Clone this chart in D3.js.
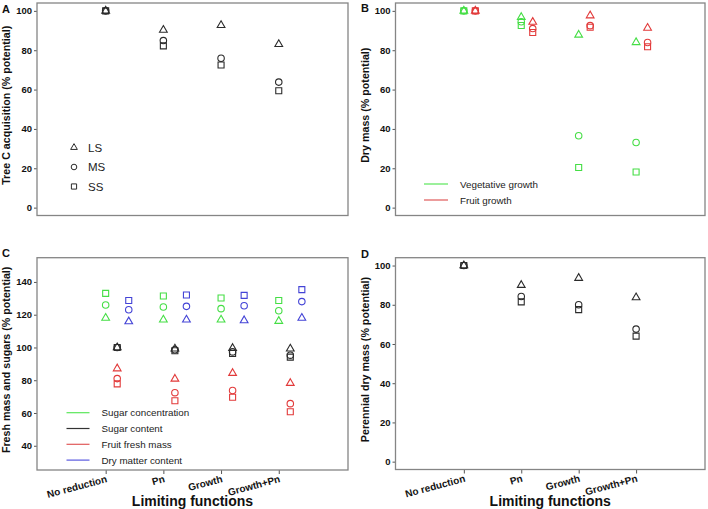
<!DOCTYPE html>
<html>
<head>
<meta charset="utf-8">
<script src="https://cdn.jsdelivr.net/npm/d3@7"></script>
<style>
  html, body { margin: 0; padding: 0; background: #fff; }
  svg { display: block; font-family: "Liberation Sans", Arial, Helvetica, sans-serif; }
</style>
</head>
<body>
<svg id="chart" width="708" height="509"></svg>
<script>
// ---------------- DATA ----------------
const categories = ["No reduction", "Pn", "Growth", "Growth+Pn"];
const stressLevels = ["LS", "MS", "SS"];

// Panel A: Tree C acquisition (% potential)
const treeC_LS = [100, 90.3, 92.7, 83.0];
const treeC_MS = [100, 84.9, 75.9, 63.8];
const treeC_SS = [100, 82.2, 72.5, 59.4];

// Panel B: Dry mass (% potential)
const veg_LS = [100, 96.8, 87.8, 84.0];
const veg_MS = [100, 94.5, 36.5, 33.1];
const veg_SS = [100, 92.6, 20.4, 18.1];
const fruit_LS = [100, 94.3, 97.6, 91.3];
const fruit_MS = [100, 91.0, 92.5, 83.9];
const fruit_SS = [100, 89.0, 91.7, 81.8];

// Panel C: Fresh mass and sugars (% potential)
const sugConc_LS = [118.0, 116.9, 116.9, 116.1];
const sugConc_MS = [125.9, 124.7, 123.7, 122.4];
const sugConc_SS = [133.0, 131.4, 130.2, 128.7];
const sugCont_LS = [100, 99.2, 99.6, 99.2];
const sugCont_MS = [100, 98.6, 97.3, 95.3];
const sugCont_SS = [100, 98.0, 96.3, 94.1];
const ffm_LS = [87.1, 80.8, 84.3, 78.2];
const ffm_MS = [81.0, 72.4, 73.7, 65.7];
const ffm_SS = [77.8, 67.5, 69.6, 60.8];
const dmc_LS = [115.8, 116.9, 116.5, 118.0];
const dmc_MS = [123.0, 125.1, 125.5, 128.0];
const dmc_SS = [128.7, 132.0, 131.8, 135.3];

// Panel D: Perennial dry mass (% potential)
const peren_LS = [100, 90.0, 93.6, 83.7];
const peren_MS = [100, 84.2, 80.0, 67.6];
const peren_SS = [100, 81.5, 77.5, 64.0];

const ticksA = [0, 20, 40, 60, 80, 100];
const ticksC = [40, 60, 80, 100, 120, 140];

// ---------------- STYLE ----------------
const COL = { black: "#2b2b2b", green: "#45de45", red: "#e23a3a", blue: "#4343d6" };
const LEGCOL = { black: "#333", green: "#5ae75a", red: "#e05a5a", blue: "#5a5ae0" };
const symType = { LS: d3.symbolTriangle, MS: d3.symbolCircle, SS: d3.symbolSquare };
const symSize = { LS: 26, MS: 33, SS: 36 };

const svg = d3.select("#chart");

function panel(opts) {
  const g = svg.append("g");
  const x = d3.scaleLinear().domain([-0.19, 5.2]).range([opts.x0, opts.x1]);
  const y = d3.scaleLinear().domain(opts.ydom).range([opts.y1, opts.y0]);

  // y axis
  const yAxis = d3.axisLeft(y).tickValues(opts.yticks).tickSize(3).tickPadding(2).tickFormat(d3.format("d"));
  const ya = g.append("g").attr("transform", `translate(${opts.x0},0)`).call(yAxis);
  ya.select(".domain").remove();
  ya.selectAll("line").attr("stroke", "#555");
  ya.selectAll("text").attr("font-size", 9.5).attr("font-weight", "bold").attr("fill", "#111");

  // x axis (ticks only on bottom panels)
  if (opts.xlabels) {
    const xAxis = d3.axisBottom(x).tickValues([1, 2, 3, 4]).tickSize(4).tickFormat("");
    const xa = g.append("g").attr("transform", `translate(0,${opts.y1})`).call(xAxis);
    xa.select(".domain").remove();
    xa.selectAll("line").attr("stroke", "#555");
    categories.forEach((c, i) => {
      g.append("text")
        .attr("transform", `translate(${x(i + 1) + 2},${opts.y1 + 12}) rotate(-15)`)
        .attr("text-anchor", "end")
        .attr("font-size", 10).attr("font-weight", "bold").attr("fill", "#111")
        .text(c);
    });
    g.append("text")
      .attr("x", (opts.x0 + opts.x1) / 2).attr("y", opts.y1 + 36)
      .attr("text-anchor", "middle").attr("font-size", 14).attr("font-weight", "bold").attr("fill", "#111")
      .text("Limiting functions");
  }

  // box
  g.append("rect").attr("x", opts.x0).attr("y", opts.y0)
    .attr("width", opts.x1 - opts.x0).attr("height", opts.y1 - opts.y0)
    .attr("fill", "none").attr("stroke", "#858585").attr("stroke-width", 1.3);

  // y title
  g.append("text")
    .attr("transform", `translate(${opts.titleX},${(opts.y0 + opts.y1) / 2 - 4}) rotate(-90)`)
    .attr("text-anchor", "middle").attr("font-size", 10.7).attr("font-weight", "bold").attr("fill", "#111")
    .text(opts.ytitle);

  // panel letter
  g.append("text").attr("x", opts.letterX).attr("y", opts.letterY)
    .attr("font-size", 11).attr("font-weight", "bold").attr("fill", "#111").text(opts.letter);

  // points
  opts.groups.forEach(grp => {
    stressLevels.forEach(s => {
      grp.values[s].forEach((v, i) => {
        g.append("path")
          .attr("d", d3.symbol().type(symType[s]).size(symSize[s])())
          .attr("transform", `translate(${x(i + 1 + grp.offset)},${y(v)})`)
          .attr("fill", "none").attr("stroke", COL[grp.color]).attr("stroke-width", 1.1);
      });
    });
  });

  return { g, x, y };
}

// Panel A
const pA = panel({
  x0: 37, x1: 348, y0: 3, y1: 215.5, ydom: [-4, 104], yticks: ticksA,
  ytitle: "Tree C acquisition (% potential)", titleX: 10, letter: "A", letterX: 2, letterY: 13,
  groups: [{ color: "black", offset: 0, values: { LS: treeC_LS, MS: treeC_MS, SS: treeC_SS } }]
});
// legend A
stressLevels.forEach((s, i) => {
  const yy = 147.5 + i * 19.5;
  pA.g.append("path").attr("d", d3.symbol().type(symType[s]).size(symSize[s] * 0.75)())
    .attr("transform", `translate(74,${yy})`).attr("fill", "none").attr("stroke", COL.black).attr("stroke-width", 1);
  pA.g.append("text").attr("x", 88).attr("y", yy).attr("dy", "0.36em")
    .attr("font-size", 11.5).attr("fill", "#222").text(s);
});

// Panel B
const pB = panel({
  x0: 395.5, x1: 705, y0: 3, y1: 215.5, ydom: [-4, 104], yticks: ticksA,
  ytitle: "Dry mass (% potential)", titleX: 369, letter: "B", letterX: 361, letterY: 12,
  groups: [
    { color: "green", offset: 0, values: { LS: veg_LS, MS: veg_MS, SS: veg_SS } },
    { color: "red", offset: 0.2, values: { LS: fruit_LS, MS: fruit_MS, SS: fruit_SS } }
  ]
});
[["Vegetative growth", "green"], ["Fruit growth", "red"]].forEach((d, i) => {
  const yy = 184 + i * 16;
  pB.g.append("line").attr("x1", 424).attr("x2", 448).attr("y1", yy).attr("y2", yy)
    .attr("stroke", LEGCOL[d[1]]).attr("stroke-width", 1.2);
  pB.g.append("text").attr("x", 460).attr("y", yy).attr("dy", "0.36em")
    .attr("font-size", 9.8).attr("fill", "#222").text(d[0]);
});

// Panel C
const pC = panel({
  x0: 37, x1: 348, y0: 257.7, y1: 470, ydom: [25.2, 154.8], yticks: ticksC, xlabels: true,
  ytitle: "Fresh mass and sugars (% potential)", titleX: 10, letter: "C", letterX: 2, letterY: 257,
  groups: [
    { color: "green", offset: 0, values: { LS: sugConc_LS, MS: sugConc_MS, SS: sugConc_SS } },
    { color: "black", offset: 0.2, values: { LS: sugCont_LS, MS: sugCont_MS, SS: sugCont_SS } },
    { color: "red", offset: 0.2, values: { LS: ffm_LS, MS: ffm_MS, SS: ffm_SS } },
    { color: "blue", offset: 0.4, values: { LS: dmc_LS, MS: dmc_MS, SS: dmc_SS } }
  ]
});
[["Sugar concentration", "green"], ["Sugar content", "black"], ["Fruit fresh mass", "red"], ["Dry matter content", "blue"]].forEach((d, i) => {
  const yy = 412.7 + i * 15.8;
  pC.g.append("line").attr("x1", 66.5).attr("x2", 89.5).attr("y1", yy).attr("y2", yy)
    .attr("stroke", LEGCOL[d[1]]).attr("stroke-width", 1.2);
  pC.g.append("text").attr("x", 101.5).attr("y", yy).attr("dy", "0.36em")
    .attr("font-size", 9.8).attr("fill", "#222").text(d[0]);
});

// Panel D
panel({
  x0: 395.5, x1: 705, y0: 257.7, y1: 469.5, ydom: [-4, 104], yticks: ticksA, xlabels: true,
  ytitle: "Perennial dry mass (% potential)", titleX: 369, letter: "D", letterX: 361, letterY: 258,
  groups: [{ color: "black", offset: 0, values: { LS: peren_LS, MS: peren_MS, SS: peren_SS } }]
});
</script>
</body>
</html>
